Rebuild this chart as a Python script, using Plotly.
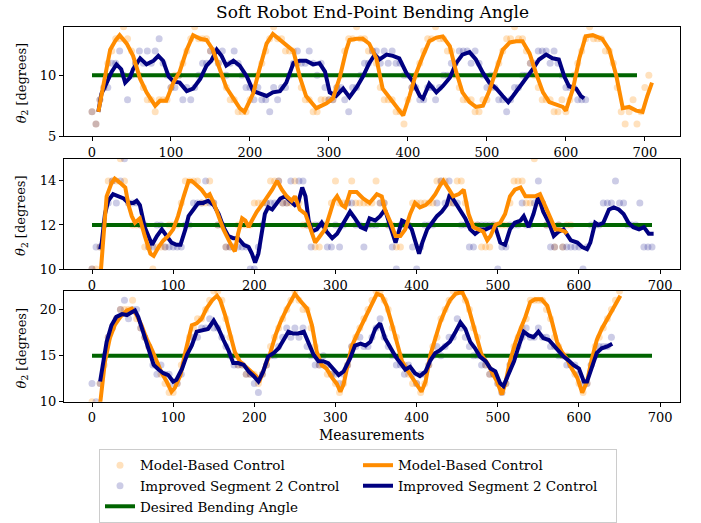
import plotly.graph_objects as go

# ---------------------------------------------------------------------------
# Data: raw end-point angle samples (every 5th measurement) and smoothed traces
# ---------------------------------------------------------------------------
RAW_STEP = 5

# Panel 1: desired angle 10 deg
P1_MBC_RAW = [7, 6, 8, 9, 11, 12, 13, 13, 14, 13, 12, 11, 10, 9, 8, 8, 7, 8, 8, 8,
              9, 10, 10, 11, 12, 13, 14, 13, 13, 13, 12, 12, 11, 10, 9, 8, 8, 7, 7, 7,
              8, 9, 10, 11, 12, 13, 14, 13, 13, 12, 12, 12, 11, 9, 8, 8, 7, 7, 8, 8,
              8, 8, 9, 10, 12, 13, 13, 14, 13, 13, 12, 12, 11, 9, 8, 8, 8, 7, 7, 6,
              8, 9, 10, 11, 12, 13, 13, 14, 13, 13, 12, 12, 10, 9, 8, 8, 8, 7, 7, 8,
              8, 9, 10, 11, 12, 13, 13, 14, 13, 13, 12, 11, 10, 9, 8, 8, 8, 7, 7, 8,
              7, 8, 10, 11, 12, 13, 14, 13, 13, 13, 12, 12, 11, 9, 7, 6, 7, 8, 6, 7,
              9, 10]
P1_ISC_RAW = [7, 6, 8, 9, 9, 11, 11, 12, 10, 8, 10, 11, 12, 11, 12, 11, 12, 13, 11, 10,
              9, 9, 10, 8, 9, 8, 9, 10, 11, 11, 12, 12, 11, 12, 10, 11, 12, 11, 10, 9,
              9, 8, 9, 8, 8, 7, 9, 8, 9, 9, 10, 11, 12, 11, 11, 12, 11, 10, 11, 9,
              8, 8, 9, 9, 8, 7, 9, 9, 10, 11, 11, 12, 12, 11, 12, 11, 12, 11, 11, 10,
              10, 9, 9, 8, 8, 9, 9, 8, 9, 10, 10, 11, 11, 12, 12, 12, 11, 12, 11, 10,
              9, 10, 9, 8, 8, 7, 8, 9, 9, 10, 10, 11, 11, 12, 12, 12, 11, 12, 11, 10,
              9, 9, 9, 8, 8, 8]
P1_MBC_LINE_X = [8, 12, 18, 23, 30, 35, 44, 52, 61, 69, 80, 86, 94, 103, 111, 120, 128,
                 137, 145, 153, 162, 170, 179, 187, 193, 204, 212, 221, 229, 238, 246,
                 255, 263, 271, 284, 297, 305, 314, 322, 326, 335, 343, 351, 360, 368,
                 377, 385, 394, 402, 410, 419, 427, 436, 444, 453, 461, 469, 478, 486,
                 495, 503, 512, 520, 529, 537, 545, 554, 562, 571, 579, 587, 596, 600,
                 609, 617, 625, 634, 646, 655, 664, 672, 680, 689, 697, 703, 709]
P1_MBC_LINE_Y = [7.0, 8.5, 10.4, 12.1, 12.9, 13.3, 12.6, 11.6, 9.7, 8.6, 7.5, 7.9, 7.9,
                 9.4, 10.3, 12.1, 13.3, 13.0, 12.9, 12.1, 10.5, 9.0, 8.1, 7.3, 7.0, 8.5,
                 10.5, 12.6, 13.4, 12.9, 12.4, 12.0, 9.9, 8.3, 7.3, 7.7, 8.1, 9.9, 12.1,
                 12.9, 13.0, 13.0, 12.6, 11.4, 8.9, 8.1, 7.4, 6.7, 8.3, 10.1, 11.6, 12.8,
                 13.1, 13.2, 12.4, 10.3, 8.6, 7.8, 7.4, 7.5, 8.7, 10.5, 12.1, 12.7, 12.8,
                 12.8, 11.8, 10.2, 8.6, 7.8, 7.6, 7.4, 7.1, 8.9, 11.4, 13.2, 13.3, 13.0,
                 12.1, 9.9, 7.3, 7.4, 7.1, 7.0, 8.3, 9.4]
P1_ISC_LINE_X = [8, 12, 18, 25, 31, 37, 42, 48, 52, 61, 69, 78, 84, 90, 97, 103, 111,
                 120, 128, 137, 145, 151, 158, 164, 170, 179, 187, 196, 204, 212, 221,
                 229, 238, 246, 255, 263, 271, 280, 288, 295, 301, 309, 318, 326, 335,
                 343, 351, 358, 364, 373, 381, 389, 398, 406, 415, 419, 427, 436, 444,
                 453, 461, 469, 478, 486, 495, 503, 512, 520, 527, 533, 541, 550, 558,
                 566, 575, 583, 591, 598, 604, 613, 619, 623]
P1_ISC_LINE_Y = [7.0, 8.5, 9.3, 10.3, 10.9, 10.5, 9.4, 9.8, 10.5, 11.4, 10.9, 11.2, 11.6,
                 11.2, 9.9, 9.5, 9.4, 8.7, 8.9, 9.7, 10.8, 11.2, 12.1, 11.6, 10.8, 11.2,
                 10.8, 9.9, 8.7, 8.5, 8.3, 8.6, 8.7, 9.4, 11.0, 11.2, 11.2, 10.9, 11.0,
                 10.3, 8.6, 8.3, 8.9, 8.2, 9.0, 9.9, 11.0, 11.7, 11.3, 11.7, 11.6, 11.4,
                 10.2, 9.5, 8.3, 8.1, 9.3, 8.6, 9.1, 9.8, 11.0, 11.7, 11.9, 11.3, 10.2,
                 9.4, 8.9, 8.3, 7.8, 8.3, 9.0, 9.7, 10.5, 11.3, 11.7, 11.4, 11.3, 9.9,
                 9.1, 8.9, 8.3, 8.1]
P1_TARGET_X = [0, 690]
P1_TARGET_Y = [10, 10]

# Panel 2: desired angle 12 deg
P2_MBC_RAW = [10, 10, 11, 12, 14, 14, 14, 15, 14, 13, 12, 12, 12, 11, 11, 10, 11, 11, 11, 12,
              12, 12, 13, 14, 14, 14, 14, 13, 13, 14, 13, 12, 12, 11, 11, 11, 12, 12, 12, 12,
              13, 13, 13, 13, 14, 14, 14, 13, 13, 13, 14, 13, 12, 12, 12, 11, 11, 12, 12, 13,
              14, 13, 13, 13, 14, 13, 13, 13, 13, 13, 14, 13, 13, 12, 12, 11, 11, 12, 12, 13,
              13, 13, 13, 13, 13, 14, 14, 14, 13, 13, 14, 14, 13, 12, 12, 12, 11, 11, 11, 12,
              12, 12, 12, 13, 14, 14, 14, 13, 13, 15, 13, 13, 12, 12, 11, 12, 11, 12, 12]
P2_ISC_RAW = [10, 11, 11, 12, 13, 14, 13, 14, 15, 13, 13, 13, 12, 12, 11, 11, 12, 12, 11, 11,
              11, 11, 11, 12, 12, 13, 13, 13, 14, 13, 13, 12, 12, 11, 11, 11, 11, 11, 11, 10,
              10, 11, 12, 13, 13, 13, 14, 13, 13, 14, 13, 14, 14, 12, 11, 12, 12, 12, 11, 11,
              12, 11, 12, 13, 13, 12, 12, 11, 12, 12, 12, 13, 13, 12, 11, 10, 12, 12, 12, 11,
              10, 11, 12, 12, 12, 13, 14, 13, 14, 13, 13, 12, 12, 11, 11, 12, 12, 12, 12, 12,
              10, 11, 11, 12, 12, 12, 13, 12, 12, 13, 14, 13, 12, 11, 11, 12, 11, 11, 11, 11,
              11, 10, 11, 12, 12, 12, 13, 13, 13, 14, 13, 13, 12, 12, 12, 13, 11, 11, 11]
P2_MBC_LINE_X = [9, 15, 18, 24, 28, 35, 41, 45, 49, 53, 59, 65, 72, 76, 82, 88, 94, 100,
                 106, 113, 119, 123, 129, 135, 141, 145, 150, 156, 162, 170, 176, 180, 185,
                 189, 193, 197, 203, 211, 217, 222, 228, 234, 240, 246, 250, 256, 263, 269,
                 275, 281, 287, 293, 298, 302, 308, 312, 318, 326, 334, 342, 351, 357, 361,
                 368, 374, 380, 386, 392, 398, 404, 411, 417, 423, 429, 433, 440, 445, 452,
                 458, 464, 470, 476, 482, 487, 491, 497, 503, 509, 515, 521, 528, 534, 540,
                 546, 552, 559, 565, 571, 575, 583, 585]
P2_MBC_LINE_Y = [9.0, 12.1, 13.3, 13.9, 14.1, 13.9, 13.7, 12.9, 12.4, 12.1, 12.3, 11.5,
                 10.7, 10.6, 11.0, 11.3, 11.5, 11.8, 12.4, 13.3, 14.0, 14.0, 13.8, 13.6,
                 13.3, 13.4, 13.0, 12.4, 11.8, 11.2, 10.8, 11.6, 12.3, 12.2, 11.9, 12.2,
                 12.6, 13.0, 13.3, 13.6, 14.0, 13.6, 13.3, 13.1, 13.3, 12.7, 12.5, 11.9,
                 11.2, 11.5, 11.8, 12.5, 13.1, 13.3, 12.9, 12.8, 13.5, 13.5, 13.2, 13.0,
                 13.4, 13.3, 12.7, 12.1, 11.5, 11.5, 11.8, 12.5, 13.0, 12.8, 12.9, 13.1,
                 13.4, 13.8, 14.0, 13.6, 13.3, 13.4, 13.6, 12.5, 11.9, 11.8, 11.7, 11.3,
                 11.5, 12.0, 12.1, 12.5, 13.3, 13.6, 13.7, 13.3, 13.3, 13.3, 13.4, 12.8,
                 12.2, 11.8, 11.8, 11.7, 11.6]
P2_ISC_LINE_X = [10, 12, 16, 20, 26, 32, 39, 45, 51, 55, 59, 65, 69, 74, 80, 86, 92, 98,
                 104, 109, 115, 119, 125, 131, 137, 143, 150, 156, 162, 168, 174, 180, 187,
                 193, 197, 201, 205, 209, 213, 217, 222, 226, 232, 238, 244, 250, 254, 259,
                 263, 267, 271, 277, 283, 289, 296, 302, 310, 318, 324, 331, 337, 342, 349,
                 355, 361, 368, 374, 378, 382, 388, 394, 398, 403, 407, 413, 419, 425, 431,
                 437, 441, 448, 454, 460, 466, 472, 479, 485, 491, 497, 503, 509, 515, 521,
                 528, 532, 538, 544, 550, 556, 563, 569, 575, 581, 590, 598, 604, 610, 614,
                 620, 624, 630, 637, 643, 649, 655, 661, 667, 674, 680, 686, 692]
P2_ISC_LINE_Y = [10.9, 11.2, 12.5, 13.1, 13.4, 13.3, 13.2, 13.0, 13.0, 13.1, 12.9, 11.9,
                 11.5, 11.1, 11.5, 11.8, 11.5, 11.2, 11.1, 11.1, 11.8, 12.4, 12.7, 13.0,
                 13.0, 13.1, 12.9, 12.5, 11.9, 11.5, 11.4, 11.4, 11.1, 11.0, 10.7, 10.3,
                 10.7, 11.6, 12.5, 12.8, 12.7, 12.9, 13.2, 13.3, 13.1, 12.9, 13.0, 13.7,
                 13.3, 12.2, 11.7, 11.8, 12.1, 11.7, 11.4, 11.6, 12.1, 12.6, 12.3, 11.9,
                 11.8, 12.3, 12.2, 12.4, 12.7, 11.9, 11.2, 11.7, 12.2, 12.1, 11.8, 11.3,
                 10.7, 11.2, 11.8, 12.1, 12.4, 12.6, 12.9, 13.4, 13.0, 12.6, 12.3, 11.8,
                 11.6, 11.8, 11.8, 11.9, 11.9, 11.2, 11.1, 11.8, 12.1, 12.2, 12.4, 11.9,
                 12.5, 13.3, 12.6, 12.1, 11.5, 11.7, 11.8, 11.3, 11.2, 11.0, 10.9, 11.2,
                 12.1, 12.0, 12.1, 12.7, 12.8, 12.7, 12.5, 12.1, 11.9, 11.8, 11.9, 11.6,
                 11.6]
P2_TARGET_X = [0, 690]
P2_TARGET_Y = [12, 12]

# Panel 3: desired angle 15 deg
P3_MBC_RAW = [10, 9, 12, 14, 17, 18, 19, 20, 20, 20, 21, 19, 18, 17, 16, 15, 14, 13, 12, 11,
              11, 12, 14, 15, 17, 18, 19, 19, 20, 21, 22, 22, 21, 19, 17, 15, 14, 14, 13, 13,
              13, 12, 13, 14, 16, 17, 18, 19, 20, 21, 22, 21, 20, 20, 18, 16, 14, 14, 13, 13,
              12, 11, 12, 14, 16, 17, 18, 19, 20, 21, 22, 22, 21, 20, 18, 17, 15, 14, 13, 12,
              12, 11, 12, 14, 16, 17, 19, 20, 21, 22, 22, 22, 21, 20, 18, 17, 15, 14, 13, 13,
              12, 11, 12, 14, 16, 17, 18, 19, 21, 21, 21, 21, 20, 19, 17, 16, 15, 15, 14, 13,
              12, 11, 12, 14, 16, 17, 18, 19, 20, 21, 22]
P3_ISC_RAW = [12, 10, 12, 15, 17, 18, 19, 20, 21, 19, 20, 20, 18, 17, 16, 14, 13, 14, 13, 13,
              12, 12, 13, 15, 16, 17, 17, 18, 18, 19, 18, 18, 17, 16, 15, 14, 14, 14, 13, 13,
              12, 11, 13, 14, 15, 15, 16, 17, 18, 17, 18, 17, 18, 16, 15, 14, 14, 15, 14, 13,
              13, 12, 13, 14, 16, 16, 17, 16, 16, 17, 18, 19, 17, 16, 15, 14, 14, 13, 14, 13,
              12, 13, 13, 14, 15, 16, 15, 16, 17, 17, 19, 18, 17, 16, 15, 15, 14, 14, 13, 13,
              12, 11, 12, 14, 15, 16, 17, 18, 17, 17, 18, 17, 17, 16, 16, 15, 15, 14, 14, 14,
              13, 12, 12, 14, 15, 16, 16, 16, 17]
P3_MBC_LINE_X = [9, 12, 16, 22, 28, 35, 43, 49, 55, 61, 67, 74, 80, 86, 92, 98, 102, 109,
                 115, 123, 129, 135, 141, 148, 154, 158, 164, 170, 176, 182, 189, 195, 201,
                 207, 213, 219, 226, 232, 240, 246, 250, 256, 265, 271, 277, 283, 289, 296,
                 302, 306, 310, 316, 320, 326, 334, 343, 351, 357, 363, 369, 375, 382, 388,
                 394, 400, 406, 411, 417, 423, 429, 435, 441, 448, 456, 462, 468, 474, 480,
                 487, 493, 499, 505, 509, 515, 522, 528, 534, 540, 546, 554, 561, 567, 573,
                 579, 585, 591, 598, 604, 610, 616, 622, 628, 635, 641, 647, 651]
P3_MBC_LINE_Y = [9.0, 11.1, 14.4, 16.9, 18.3, 19.2, 19.9, 20.1, 19.4, 18.3, 16.9, 15.6,
                 14.4, 13.1, 12.2, 11.1, 11.5, 12.9, 15.4, 18.3, 18.5, 19.0, 20.1, 21.0,
                 21.5, 21.0, 19.4, 17.4, 15.4, 14.4, 13.8, 13.3, 12.9, 12.4, 13.8, 15.1,
                 17.2, 18.6, 20.1, 21.1, 21.7, 21.0, 20.1, 18.3, 15.4, 14.0, 13.6, 12.6,
                 11.9, 11.1, 11.9, 14.4, 16.0, 17.2, 18.6, 20.4, 21.7, 21.5, 20.4, 18.6,
                 16.5, 14.4, 13.5, 12.6, 11.9, 11.1, 12.2, 15.1, 16.9, 18.6, 19.9, 21.0,
                 21.7, 21.9, 20.8, 19.0, 16.9, 15.1, 14.2, 13.3, 12.2, 10.8, 11.9, 14.4,
                 16.5, 17.9, 19.2, 20.8, 21.1, 21.1, 20.4, 18.6, 16.5, 15.4, 14.7, 13.6,
                 12.6, 11.0, 12.2, 14.7, 16.7, 17.9, 19.0, 20.1, 21.0, 21.5]
P3_ISC_LINE_X = [10, 14, 18, 24, 30, 37, 43, 49, 53, 57, 63, 70, 76, 82, 88, 94, 100, 104,
                 111, 117, 123, 129, 137, 143, 150, 156, 162, 168, 174, 180, 187, 193, 199,
                 205, 211, 217, 224, 230, 236, 242, 248, 254, 261, 267, 273, 279, 285, 291,
                 298, 304, 310, 316, 318, 324, 331, 337, 343, 349, 355, 361, 368, 374, 380,
                 386, 392, 398, 404, 411, 417, 423, 429, 435, 441, 448, 454, 460, 466, 472,
                 478, 485, 491, 497, 503, 507, 513, 520, 526, 532, 538, 544, 550, 556, 563,
                 569, 575, 581, 587, 593, 600, 606, 610, 616, 622, 628, 635, 641]
P3_ISC_LINE_Y = [12.2, 14.7, 16.5, 18.3, 19.2, 19.5, 19.4, 19.7, 19.9, 19.2, 17.6, 15.8,
                 14.0, 13.5, 13.1, 12.9, 12.2, 12.4, 13.6, 15.1, 16.1, 17.6, 17.8, 17.9,
                 18.8, 17.9, 16.7, 15.6, 14.2, 14.2, 14.0, 13.3, 12.8, 12.2, 13.3, 14.9,
                 15.3, 15.8, 16.7, 17.6, 17.4, 17.4, 17.6, 16.3, 15.1, 14.4, 14.4, 14.2,
                 13.5, 12.9, 13.3, 14.4, 14.7, 16.1, 16.3, 16.1, 16.5, 17.9, 18.5, 16.9,
                 15.8, 14.9, 14.2, 13.5, 13.8, 13.1, 12.8, 13.3, 14.5, 15.3, 15.6, 16.0,
                 16.5, 17.6, 18.6, 17.9, 16.5, 15.8, 14.9, 14.4, 13.6, 13.3, 12.0, 11.7,
                 12.9, 14.4, 16.1, 17.6, 17.2, 17.0, 17.6, 16.9, 16.7, 16.1, 15.4, 14.9,
                 14.5, 14.0, 13.6, 12.2, 12.2, 13.8, 15.3, 15.8, 16.0, 16.3]
P3_TARGET_X = [0, 690]
P3_TARGET_Y = [15, 15]

X_TICKS = [0, 100, 200, 300, 400, 500, 600, 700]
Y_TICKS = [[5, 10], [10, 12, 14], [10, 15, 20]]
Y_RANGES = [[5, 14], [10, 15], [10, 22]]
X_RANGES = [[-35.45, 744.45], [-34.5, 724.5], [-34.5, 724.5]]

LABEL_MBC = "Model-Based Control"
LABEL_ISC = "Improved Segment 2 Control"
LABEL_TARGET = "Desired Bending Angle"

# ---------------------------------------------------------------------------
# Styling
# ---------------------------------------------------------------------------
W, H = 701, 523
FONT = "DejaVu Serif"
ORANGE = "#ff8c00"
NAVY = "#000080"
GREEN = "#006400"
ORANGE_DOT = "rgba(255,140,0,0.26)"
NAVY_DOT = "rgba(0,0,128,0.2)"

# panel boxes in pixels: (top, bottom)
PLOT_LEFT, PLOT_RIGHT = 64, 680
PANEL_PX = [(27, 138), (161, 272.7), (295, 407.3)]

panels = [
    dict(mbc_raw=P1_MBC_RAW, isc_raw=P1_ISC_RAW,
         mbc_x=P1_MBC_LINE_X, mbc_y=P1_MBC_LINE_Y,
         isc_x=P1_ISC_LINE_X, isc_y=P1_ISC_LINE_Y,
         tx=P1_TARGET_X, ty=P1_TARGET_Y, navy_on_top=False),
    dict(mbc_raw=P2_MBC_RAW, isc_raw=P2_ISC_RAW,
         mbc_x=P2_MBC_LINE_X, mbc_y=P2_MBC_LINE_Y,
         isc_x=P2_ISC_LINE_X, isc_y=P2_ISC_LINE_Y,
         tx=P2_TARGET_X, ty=P2_TARGET_Y, navy_on_top=False),
    dict(mbc_raw=P3_MBC_RAW, isc_raw=P3_ISC_RAW,
         mbc_x=P3_MBC_LINE_X, mbc_y=P3_MBC_LINE_Y,
         isc_x=P3_ISC_LINE_X, isc_y=P3_ISC_LINE_Y,
         tx=P3_TARGET_X, ty=P3_TARGET_Y, navy_on_top=True),
]

fig = go.Figure()
layout_axes = {}

for i, p in enumerate(panels):
    n = "" if i == 0 else str(i + 1)
    xa, ya = "x" + n, "y" + n
    first = i == 0

    mbc_rx = [k * RAW_STEP for k in range(len(p["mbc_raw"]))]
    isc_rx = [k * RAW_STEP for k in range(len(p["isc_raw"]))]

    fig.add_trace(go.Scatter(
        x=mbc_rx, y=p["mbc_raw"], mode="markers", name=LABEL_MBC,
        marker=dict(color=ORANGE_DOT, size=7, line=dict(width=0)),
        xaxis=xa, yaxis=ya, showlegend=first, legendrank=1, hoverinfo="skip"))
    fig.add_trace(go.Scatter(
        x=isc_rx, y=p["isc_raw"], mode="markers", name=LABEL_ISC,
        marker=dict(color=NAVY_DOT, size=7, line=dict(width=0)),
        xaxis=xa, yaxis=ya, showlegend=first, legendrank=3, hoverinfo="skip"))
    fig.add_trace(go.Scatter(
        x=p["tx"], y=p["ty"], mode="lines", name=LABEL_TARGET,
        line=dict(color=GREEN, width=4),
        xaxis=xa, yaxis=ya, showlegend=first, legendrank=5))

    mbc_line = go.Scatter(
        x=p["mbc_x"], y=p["mbc_y"], mode="lines", name=LABEL_MBC,
        line=dict(color=ORANGE, width=4),
        xaxis=xa, yaxis=ya, showlegend=first, legendrank=2)
    isc_line = go.Scatter(
        x=p["isc_x"], y=p["isc_y"], mode="lines", name=LABEL_ISC,
        line=dict(color=NAVY, width=4),
        xaxis=xa, yaxis=ya, showlegend=first, legendrank=4)
    if p["navy_on_top"]:
        fig.add_trace(mbc_line)
        fig.add_trace(isc_line)
    else:
        fig.add_trace(isc_line)
        fig.add_trace(mbc_line)

    top, bottom = PANEL_PX[i]
    axis_common = dict(
        showline=True, mirror=True, linecolor="black", linewidth=1,
        ticks="outside", ticklen=4, tickwidth=1, tickcolor="black",
        showgrid=False, zeroline=False,
        tickfont=dict(family=FONT, size=13, color="black"),
    )
    layout_axes["xaxis" + n] = dict(
        axis_common, domain=[PLOT_LEFT / W, PLOT_RIGHT / W],
        range=X_RANGES[i], tickvals=X_TICKS, anchor=ya)
    layout_axes["yaxis" + n] = dict(
        axis_common, domain=[1 - bottom / H, 1 - top / H],
        range=Y_RANGES[i], tickvals=Y_TICKS[i], anchor=xa)

annotations = [
    dict(text="Soft Robot End-Point Bending Angle", x=(PLOT_LEFT + PLOT_RIGHT) / 2 / W,
         y=1 - 12 / H, xref="paper", yref="paper", xanchor="center", yanchor="middle",
         showarrow=False, font=dict(family=FONT, size=17, color="black")),
    dict(text="Measurements", x=(PLOT_LEFT + PLOT_RIGHT) / 2 / W, y=1 - 441 / H,
         xref="paper", yref="paper", xanchor="center", yanchor="middle",
         showarrow=False, font=dict(family=FONT, size=14, color="black")),
]
for top, bottom in PANEL_PX:
    annotations.append(dict(
        text="<i>θ</i><sub>2</sub> [degrees]", x=22 / W, y=1 - ((top + bottom) / 2 + 2) / H,
        xref="paper", yref="paper", xanchor="center", yanchor="middle",
        textangle=-90, showarrow=False,
        font=dict(family=FONT, size=13, color="black")))

fig.update_layout(
    width=W, height=H,
    margin=dict(l=0, r=0, t=0, b=0),
    paper_bgcolor="white", plot_bgcolor="white",
    font=dict(family=FONT, size=13, color="black"),
    annotations=annotations,
    legend=dict(
        orientation="h", x=99 / W, y=1 - 455 / H, xanchor="left", yanchor="top",
        entrywidth=213, entrywidthmode="pixels",
        bordercolor="#cccccc", borderwidth=1, bgcolor="rgba(255,255,255,0.8)",
        font=dict(family=FONT, size=13.5, color="black"),
        traceorder="normal",
    ),
    **layout_axes,
)

fig.write_html("out.html")
